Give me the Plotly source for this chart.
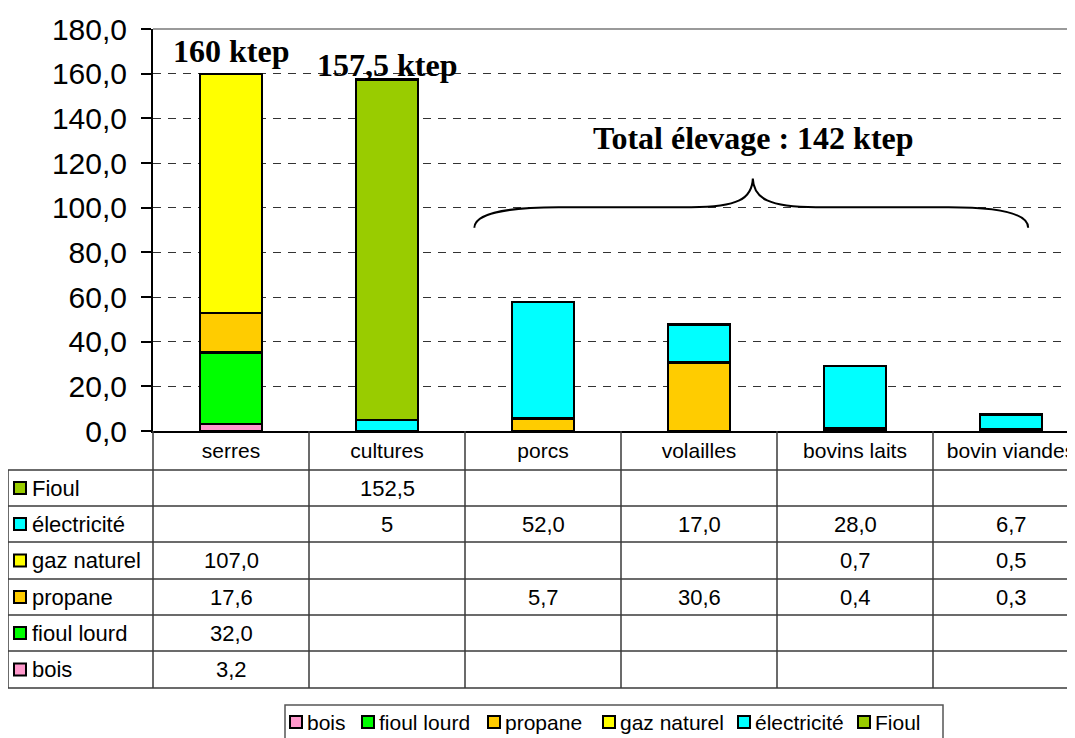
import plotly.graph_objects as go

# data (ktep)
categories = ["serres", "cultures", "porcs", "volailles", "bovins laits", "bovin viandes"]
bois = [3.2, None, None, None, None, None]
fioul_lourd = [32.0, None, None, None, None, None]
propane = [17.6, None, 5.7, 30.6, 0.4, 0.3]
gaz_naturel = [107.0, None, None, None, 0.7, 0.5]
electricite = [None, 5, 52.0, 17.0, 28.0, 6.7]
fioul = [None, 152.5, None, None, None, None]

series_names = ["bois", "fioul lourd", "propane", "gaz naturel", "électricité", "Fioul"]
series_values = [bois, fioul_lourd, propane, gaz_naturel, electricite, fioul]
series_colors = ["#FF99CC", "#00FF00", "#FFCC00", "#FFFF00", "#00FFFF", "#99CC00"]

y_ticks = list(range(0, 181, 20))

# geometry, in window pixels (the page body adds an 8px margin)
W, H = 1075, 738
OFF = 8
PLOT_L, PLOT_T, PLOT_B = 153, 29, 431
CAT_PX = 156
X_RANGE = [-0.5, -0.5 + (W - (PLOT_L - OFF)) / CAT_PX]
ROW_EDGES = [470, 506, 542, 579, 615, 651, 688]
TABLE_LEFT = 8
LEGEND_BOX = (285, 943, 705)
LEGEND_KEYS = [290, 362, 488, 603, 738, 858]
LINE = "#3a3a3a"
ARIAL = "Liberation Sans, Arial, sans-serif"
TIMES = "Liberation Serif, Times New Roman, serif"


def paper_x(px):
    return (px - PLOT_L) / (W - (PLOT_L - OFF))


def paper_y(py):
    return (PLOT_B - py) / (PLOT_B - PLOT_T)


def cat_x(v):
    return (v - X_RANGE[0]) / (X_RANGE[1] - X_RANGE[0])


def fmt(v):
    if v is None:
        return ""
    if isinstance(v, int):
        return str(v)
    return f"{v:.1f}".replace(".", ",")


def hline(py, x0, x1, color=LINE, width=1.5):
    return dict(type="line", xref="paper", yref="paper", x0=x0, x1=x1,
                y0=paper_y(py), y1=paper_y(py), line=dict(color=color, width=width))


def key_box(px, mid, color):
    return dict(type="rect", xref="paper", yref="paper",
                x0=paper_x(px), x1=paper_x(px + 12), y0=paper_y(mid - 6), y1=paper_y(mid + 6),
                fillcolor=color, line=dict(color="black", width=2))


fig = go.Figure()
xs = list(range(len(categories)))
for name, vals, color in zip(series_names, series_values, series_colors):
    fig.add_trace(go.Bar(
        x=xs, y=vals, name=name, width=0.4, showlegend=False,
        marker=dict(color=color, line=dict(color="black", width=2.5)),
    ))

shapes = [hline(PLOT_T, 0, 1, color="#9a9a9a", width=2)]
annotations = []

# data table
for py in ROW_EDGES:
    shapes.append(hline(py, paper_x(TABLE_LEFT), 1))
for i in range(len(categories) + 1):
    edge = i - 0.5
    if edge > X_RANGE[1]:
        continue
    shapes.append(dict(type="line", xref="paper", yref="paper",
                       x0=cat_x(edge), x1=cat_x(edge), y0=paper_y(PLOT_B), y1=paper_y(ROW_EDGES[-1]),
                       line=dict(color=LINE, width=1.5)))
shapes.append(dict(type="line", xref="paper", yref="paper",
                   x0=paper_x(TABLE_LEFT), x1=paper_x(TABLE_LEFT),
                   y0=paper_y(ROW_EDGES[0]), y1=paper_y(ROW_EDGES[-1]),
                   line=dict(color=LINE, width=1.5)))

for r, k in enumerate(reversed(range(len(series_names)))):
    mid = (ROW_EDGES[r] + ROW_EDGES[r + 1]) / 2
    shapes.append(key_box(14, mid, series_colors[k]))
    annotations.append(dict(text=series_names[k], xref="paper", yref="paper",
                            x=paper_x(30), y=paper_y(mid), xanchor="left", yanchor="middle",
                            showarrow=False, font=dict(family=ARIAL, size=22, color="black")))
    for i, v in enumerate(series_values[k]):
        if v is None:
            continue
        annotations.append(dict(text=fmt(v), xref="x", yref="paper", x=i, y=paper_y(mid),
                                xanchor="center", yanchor="middle", showarrow=False,
                                font=dict(family=ARIAL, size=22, color="black")))

# legend strip at the bottom
lx0, lx1, ly0 = LEGEND_BOX
shapes.append(dict(type="rect", xref="paper", yref="paper",
                   x0=paper_x(lx0), x1=paper_x(lx1), y0=paper_y(ly0), y1=paper_y(H + 20),
                   line=dict(color="#555555", width=1.5), fillcolor="white", layer="below"))
leg_mid = ly0 + 17
for px, name, color in zip(LEGEND_KEYS, series_names, series_colors):
    shapes.append(key_box(px, leg_mid, color))
    annotations.append(dict(text=name, xref="paper", yref="paper",
                            x=paper_x(px + 15), y=paper_y(leg_mid), xanchor="left", yanchor="middle",
                            showarrow=False, font=dict(family=ARIAL, size=21, color="black")))

# totals
annotations += [
    dict(text="<b>160 ktep</b>", x=0, y=170, xref="x", yref="y", showarrow=False,
         font=dict(family=TIMES, size=32, color="black")),
    dict(text="<b>157,5 ktep</b>", x=1, y=164, xref="x", yref="y", showarrow=False,
         font=dict(family=TIMES, size=32, color="black")),
    dict(text="<b>Total élevage : 142 ktep</b>", x=3.35, y=131, xref="x", yref="y", showarrow=False,
         font=dict(family=TIMES, size=32, color="black")),
]

# curly brace over the livestock bars
shapes.append(dict(
    type="path", xref="x", yref="y",
    path="M 1.56,91 C 1.56,97 1.75,100.2 2.1,100.2 L 2.95,100.2 "
         "C 3.25,100.2 3.34,104 3.345,113 "
         "C 3.35,104 3.45,100.2 3.75,100.2 L 4.6,100.2 "
         "C 4.95,100.2 5.11,97 5.11,91",
    line=dict(color="black", width=2),
))

fig.update_layout(
    width=W, height=H,
    margin=dict(l=PLOT_L - OFF, r=0, t=PLOT_T - OFF, b=H - (PLOT_B - OFF), autoexpand=False),
    barmode="stack",
    separators=", ",
    paper_bgcolor="white", plot_bgcolor="white",
    font=dict(family=ARIAL, size=22, color="black"),
    shapes=shapes,
    annotations=annotations,
    showlegend=False,
)
fig.update_xaxes(
    range=X_RANGE, tickmode="array", tickvals=xs, ticktext=categories,
    showline=True, linecolor="black", linewidth=2, showgrid=False, zeroline=False,
    ticks="", ticklabelstandoff=0, tickfont=dict(family=ARIAL, size=21, color="black"),
    automargin=False,
)
fig.update_yaxes(
    range=[0, 180], tickmode="array", tickvals=y_ticks, tickformat=".1f",
    showline=True, linecolor="black", linewidth=2,
    ticks="outside", ticklen=10, tickcolor="black", tickwidth=1.5,
    ticklabelstandoff=8, tickfont=dict(family=ARIAL, size=30, color="black"),
    showgrid=True, gridcolor="#333333", gridwidth=1, griddash="8px,7px",
    zeroline=False, automargin=False,
)

fig.write_html("out.html")
